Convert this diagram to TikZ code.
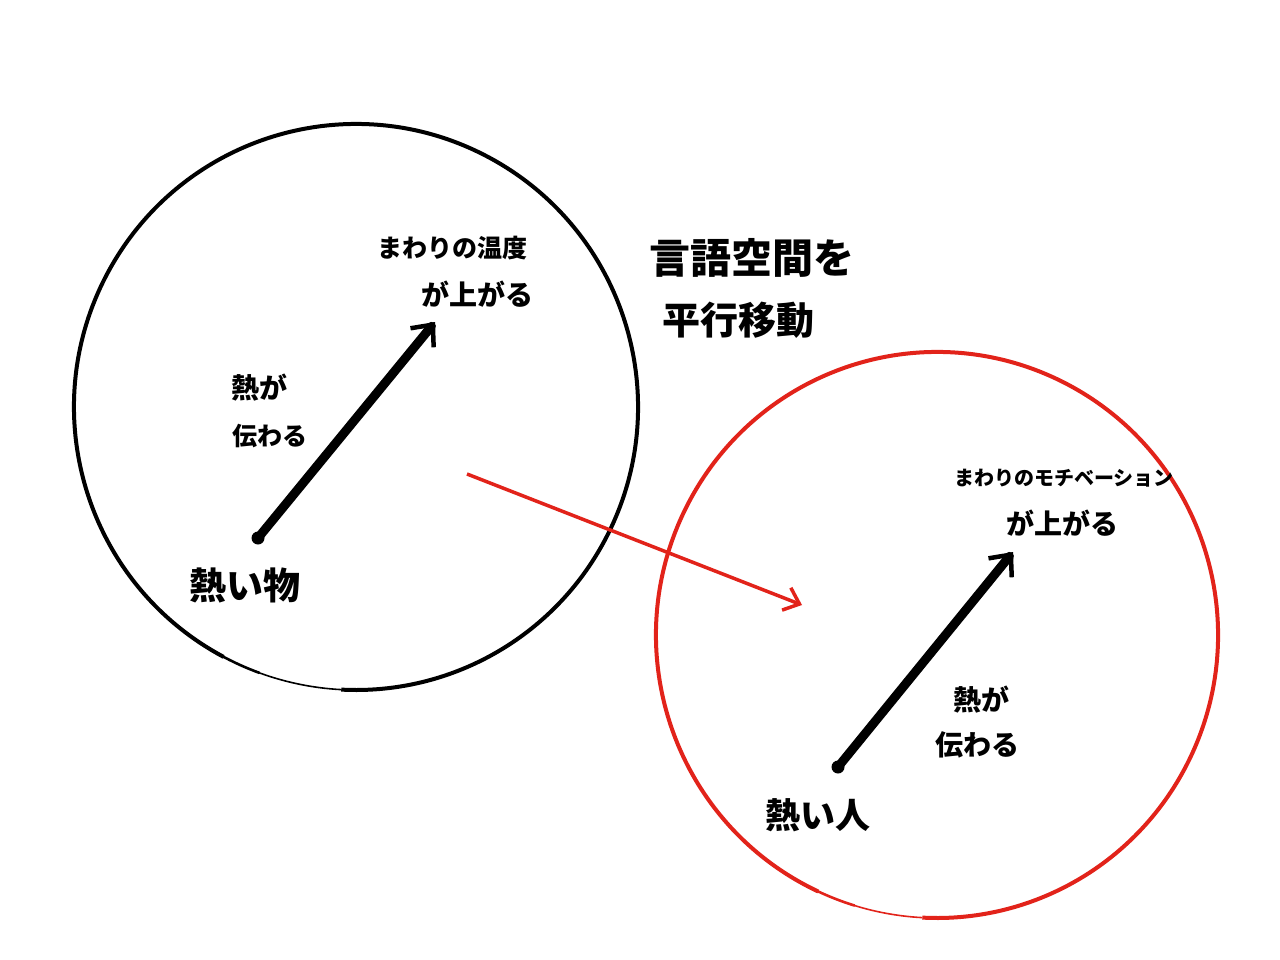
\documentclass[tikz,border=0pt]{standalone}
\usepackage{fontspec}
\newfontfamily\jp{Noto Sans CJK JP}
\usetikzlibrary{arrows.meta,shapes.geometric}
\definecolor{penred}{RGB}{226,35,26}
\tikzset{
  lbl/.style={inner sep=0pt, text=black},
  space/.style={ellipse, inner sep=0pt, minimum width=564pt, minimum height=566pt},
  rim/.style={line width=4pt},
  rimmid/.style={line width=2.6pt},
  rimthin/.style={line width=1.6pt},
  bigarrow/.style={line width=9pt, -{Straight Barb[length=17pt,width=30pt,line width=4.5pt]}, line cap=round},
  shiftarrow/.style={line width=3.5pt, penred, -{Straight Barb[length=14pt,width=24pt,line width=3.5pt]}},
}
\begin{document}
\begin{tikzpicture}[x=1pt,y=-1pt]
\useasboundingbox[fill=white] (0,0) rectangle (1280,960);
% circles
\node[space] (spaceA) at (356,407) {};
\node[space] (spaceB) at (937,635) {};
\draw[rim, black] (spaceA.center) ++(118:282 and 283) arc[start angle=118, end angle=453, x radius=282, y radius=283];
\draw[rimmid, black] (spaceA.center) ++(110:282 and 283) arc[start angle=110, end angle=119, x radius=282, y radius=283];
\draw[rimthin, black] (spaceA.center) ++(93:282 and 283) arc[start angle=93, end angle=111, x radius=282, y radius=283];
\draw[rim, penred] (spaceB.center) ++(115:281 and 283) arc[start angle=115, end angle=453, x radius=281, y radius=283];
\draw[rimmid, penred] (spaceB.center) ++(107:281 and 283) arc[start angle=107, end angle=116, x radius=281, y radius=283];
\draw[rimthin, penred] (spaceB.center) ++(93:281 and 283) arc[start angle=93, end angle=108, x radius=281, y radius=283];
% left scene
\coordinate (a1) at (258,538);
\coordinate (a2) at (435,322);
\fill (a1) circle (6.5pt);
\draw[bigarrow] (a1) -- (a2);
\node[lbl, font=\jp\bfseries\fontsize{25}{30}\selectfont] (t1) at (452,248) {まわりの温度};
\node[lbl, font=\jp\bfseries\fontsize{28}{30}\selectfont] (t2) at (477,294) {が上がる};
\node[lbl, font=\jp\bfseries\fontsize{28}{30}\selectfont] (t3) at (259,388) {熱が};
\node[lbl, font=\jp\bfseries\fontsize{25}{30}\selectfont] (t4) at (270,436) {伝わる};
\node[lbl, font=\jp\bfseries\fontsize{37}{40}\selectfont] (t5) at (245,585) {熱い物};
% middle
\node[lbl, font=\jp\bfseries\fontsize{41}{44}\selectfont] (m1) at (752,258) {言語空間を};
\node[lbl, font=\jp\bfseries\fontsize{38}{44}\selectfont] (m2) at (738,320) {平行移動};
\coordinate (r1) at (467,474);
\coordinate (r2) at (802,605);
\draw[shiftarrow] (r1) -- (r2);
% right scene
\coordinate (b1) at (838,767);
\coordinate (b2) at (1013,552);
\fill (b1) circle (6.5pt);
\draw[bigarrow] (b1) -- (b2);
\node[lbl, font=\jp\bfseries\fontsize{20}{24}\selectfont] (u1) at (1064,478) {まわりのモチベーション};
\node[lbl, font=\jp\bfseries\fontsize{28}{30}\selectfont] (u2) at (1062,523) {が上がる};
\node[lbl, font=\jp\bfseries\fontsize{28}{30}\selectfont] (u3) at (981,700) {熱が};
\node[lbl, font=\jp\bfseries\fontsize{28}{30}\selectfont] (u4) at (977,745) {伝わる};
\node[lbl, font=\jp\bfseries\fontsize{35}{40}\selectfont] (u5) at (818,815) {熱い人};
\end{tikzpicture}
\end{document}
